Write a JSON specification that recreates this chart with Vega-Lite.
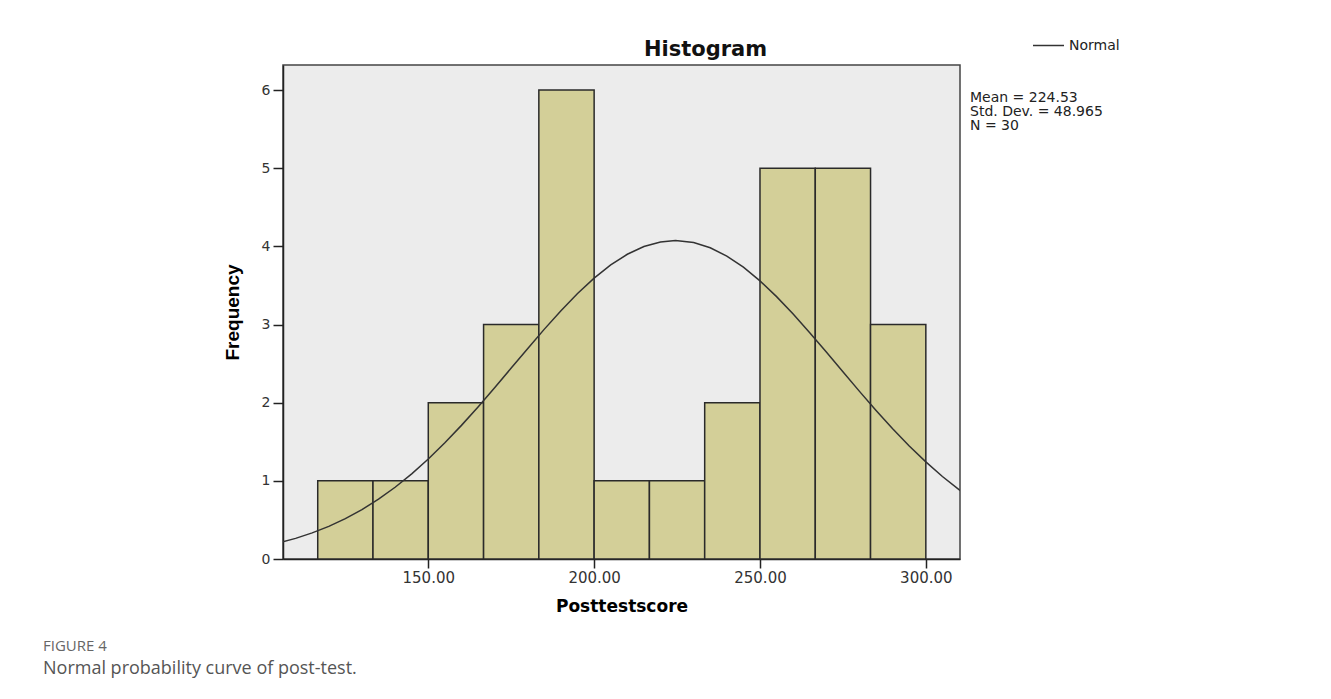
{
  "$schema": "https://vega.github.io/schema/vega-lite/v6.json",
  "width": 677,
  "height": 494,
  "autosize": {"type": "none"},
  "padding": {"left": 283, "top": 65, "right": 371, "bottom": 140},
  "background": "white",
  "view": {"fill": "#ececec", "stroke": "#444444", "strokeWidth": 1.5},
  "title": {
    "text": "FIGURE 4",
    "subtitle": "Normal probability curve of post-test.",
    "orient": "bottom",
    "anchor": "start",
    "frame": "group",
    "dx": -240,
    "offset": 25,
    "font": "Open Sans",
    "fontSize": 15,
    "fontWeight": "normal",
    "color": "#666666",
    "subtitleFont": "Open Sans",
    "subtitleFontSize": 18,
    "subtitleColor": "#555555",
    "subtitlePadding": 6
  },
  "config": {
    "axis": {"grid": false}
  },
  "datasets": {
    "bins": [
      {"bin_start": 116.67, "bin_end": 133.33, "count": 1},
      {"bin_start": 133.33, "bin_end": 150.0, "count": 1},
      {"bin_start": 150.0, "bin_end": 166.67, "count": 2},
      {"bin_start": 166.67, "bin_end": 183.33, "count": 3},
      {"bin_start": 183.33, "bin_end": 200.0, "count": 6},
      {"bin_start": 200.0, "bin_end": 216.67, "count": 1},
      {"bin_start": 216.67, "bin_end": 233.33, "count": 1},
      {"bin_start": 233.33, "bin_end": 250.0, "count": 2},
      {"bin_start": 250.0, "bin_end": 266.67, "count": 5},
      {"bin_start": 266.67, "bin_end": 283.33, "count": 5},
      {"bin_start": 283.33, "bin_end": 300.0, "count": 3}
    ],
    "curve": [
      {"x": 106, "y": 0.2175, "series": "Normal"},
      {"x": 110, "y": 0.2642, "series": "Normal"},
      {"x": 115, "y": 0.3338, "series": "Normal"},
      {"x": 120, "y": 0.4173, "series": "Normal"},
      {"x": 125, "y": 0.5161, "series": "Normal"},
      {"x": 130, "y": 0.632, "series": "Normal"},
      {"x": 135, "y": 0.7657, "series": "Normal"},
      {"x": 140, "y": 0.9181, "series": "Normal"},
      {"x": 145, "y": 1.0894, "series": "Normal"},
      {"x": 150, "y": 1.2792, "series": "Normal"},
      {"x": 155, "y": 1.4866, "series": "Normal"},
      {"x": 160, "y": 1.7096, "series": "Normal"},
      {"x": 165, "y": 1.9456, "series": "Normal"},
      {"x": 170, "y": 2.1914, "series": "Normal"},
      {"x": 175, "y": 2.4425, "series": "Normal"},
      {"x": 180, "y": 2.6942, "series": "Normal"},
      {"x": 185, "y": 2.941, "series": "Normal"},
      {"x": 190, "y": 3.1771, "series": "Normal"},
      {"x": 195, "y": 3.3966, "series": "Normal"},
      {"x": 200, "y": 3.5936, "series": "Normal"},
      {"x": 205, "y": 3.7625, "series": "Normal"},
      {"x": 210, "y": 3.8985, "series": "Normal"},
      {"x": 215, "y": 3.9976, "series": "Normal"},
      {"x": 220, "y": 4.0566, "series": "Normal"},
      {"x": 224.53, "y": 4.074, "series": "Normal"},
      {"x": 230, "y": 4.0487, "series": "Normal"},
      {"x": 235, "y": 3.9819, "series": "Normal"},
      {"x": 240, "y": 3.8756, "series": "Normal"},
      {"x": 245, "y": 3.7331, "series": "Normal"},
      {"x": 250, "y": 3.5585, "series": "Normal"},
      {"x": 255, "y": 3.3568, "series": "Normal"},
      {"x": 260, "y": 3.1338, "series": "Normal"},
      {"x": 265, "y": 2.8952, "series": "Normal"},
      {"x": 270, "y": 2.6471, "series": "Normal"},
      {"x": 275, "y": 2.3951, "series": "Normal"},
      {"x": 280, "y": 2.1447, "series": "Normal"},
      {"x": 285, "y": 1.9004, "series": "Normal"},
      {"x": 290, "y": 1.6665, "series": "Normal"},
      {"x": 295, "y": 1.4463, "series": "Normal"},
      {"x": 300, "y": 1.2421, "series": "Normal"},
      {"x": 305, "y": 1.0557, "series": "Normal"},
      {"x": 310, "y": 0.888, "series": "Normal"},
      {"x": 311, "y": 0.8567, "series": "Normal"}
    ],
    "stats": [
      {"stat": "Mean = 224.53"},
      {"stat": "Std. Dev. = 48.965"},
      {"stat": "N = 30"}
    ]
  },
  "layer": [
    {
      "data": {"name": "bins"},
      "mark": {"type": "bar", "fill": "#d3cf98", "stroke": "#2a2a2a", "strokeWidth": 1.5},
      "encoding": {
        "x": {
          "field": "bin_start",
          "type": "quantitative",
          "scale": {"domain": [106.2, 310.3], "nice": false, "zero": false},
          "axis": {
            "orient": "bottom",
            "values": [150, 200, 250, 300],
            "format": ".2f",
            "title": "Posttestscore",
            "titleFont": "DejaVu Sans",
            "titleFontSize": 17,
            "titleFontWeight": "bold",
            "titleColor": "#000000",
            "titlePadding": 13,
            "labelFont": "DejaVu Sans",
            "labelFontSize": 15,
            "labelColor": "#333333",
            "labelPadding": 2,
            "tickSize": 9,
            "tickColor": "#222222",
            "tickWidth": 1.5,
            "domainColor": "#222222",
            "domainWidth": 1.5
          }
        },
        "x2": {"field": "bin_end"},
        "y": {
          "field": "count",
          "type": "quantitative",
          "scale": {"domain": [0, 6.32], "nice": false},
          "axis": {
            "values": [0, 1, 2, 3, 4, 5, 6],
            "format": "d",
            "title": "Frequency",
            "titleFont": "Liberation Sans Narrow, Arial Narrow, Liberation Sans",
            "titleFontSize": 19,
            "titleFontWeight": "bold",
            "titleColor": "#000000",
            "titlePadding": 19,
            "labelFont": "DejaVu Sans",
            "labelFontSize": 14,
            "labelColor": "#333333",
            "labelPadding": 3,
            "tickSize": 10,
            "tickColor": "#222222",
            "tickWidth": 1.5,
            "domainColor": "#222222",
            "domainWidth": 1.5
          }
        },
        "y2": {"datum": 0}
      }
    },
    {
      "data": {"name": "curve"},
      "mark": {"type": "line", "strokeWidth": 1.5, "clip": true},
      "encoding": {
        "x": {
          "field": "x",
          "type": "quantitative",
          "axis": {
            "orient": "top",
            "labels": false,
            "ticks": false,
            "domain": false,
            "title": "Histogram",
            "titleFont": "DejaVu Sans",
            "titleFontSize": 21,
            "titleFontWeight": "bold",
            "titleColor": "#111111",
            "titlePadding": 6,
            "titleX": 422
          }
        },
        "y": {"field": "y", "type": "quantitative"},
        "stroke": {
          "field": "series",
          "type": "nominal",
          "scale": {"range": ["#333333"]},
          "legend": {
            "orient": "none",
            "legendX": 749,
            "legendY": -36,
            "title": null,
            "symbolType": "stroke",
            "symbolSize": 961,
            "symbolStrokeWidth": 1.5,
            "symbolStrokeColor": "#333333",
            "labelFont": "DejaVu Sans",
            "labelFontSize": 14,
            "labelColor": "#222222",
            "labelOffset": 4
          }
        }
      }
    },
    {
      "data": {"name": "stats"},
      "mark": {"type": "point", "opacity": 0},
      "encoding": {
        "shape": {
          "field": "stat",
          "type": "nominal",
          "scale": {"domain": ["Mean = 224.53", "Std. Dev. = 48.965", "N = 30"]},
          "legend": {
            "orient": "none",
            "legendX": 673,
            "legendY": 26,
            "title": null,
            "symbolOpacity": 0,
            "symbolSize": 0,
            "symbolStrokeWidth": 0,
            "labelOffset": 0,
            "labelFont": "DejaVu Sans",
            "labelFontSize": 14,
            "labelColor": "#222222",
            "rowPadding": -0.5
          }
        }
      }
    }
  ],
  "resolve": {"axis": {"x": "independent"}}
}
